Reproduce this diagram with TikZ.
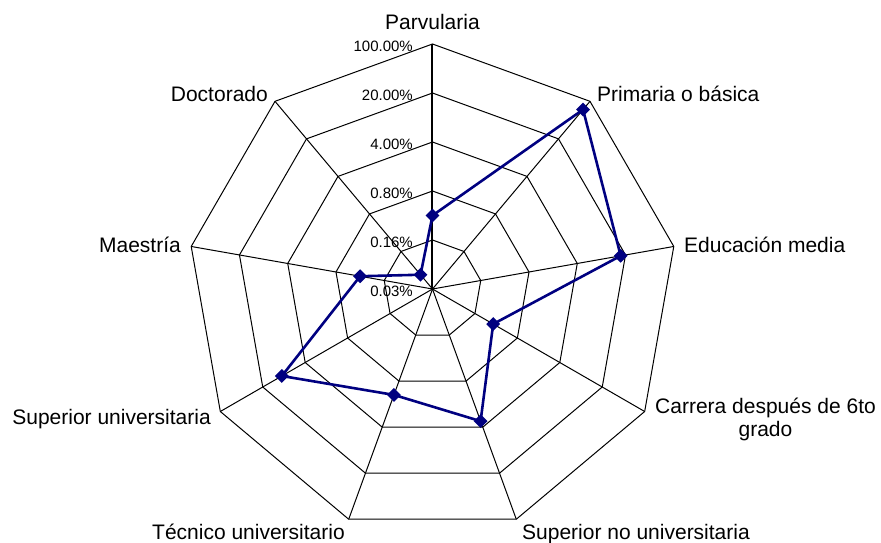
\documentclass[tikz,border=0pt]{standalone}
\usepackage{fontspec}
\setmainfont{Liberation Sans}
\usetikzlibrary{calc,shapes.geometric}
\definecolor{navy}{RGB}{0,0,128}

\begin{document}
\begin{tikzpicture}[x=1pt,y=1pt,
    grid/.style={line width=1pt},
    lbl/.style={inner sep=0pt,font=\fontsize{21}{23}\selectfont},
    pct/.style={inner sep=0pt,font=\fontsize{15}{17}\selectfont,anchor=base east},
    serie/.style={line width=2.6pt,navy,line join=round},
    punto/.style={diamond,fill=navy,inner sep=0pt,minimum size=14pt}]
    \useasboundingbox (-432.5,-253) rectangle (448.5,289);

    % corners of the outer ring
    \foreach \i in {0,...,8}
        \coordinate (v\i) at ({90-40*\i}:245);

    % rings
    \foreach \k in {1,...,5}
        \draw[grid] (90:{49*\k}) \foreach \i in {1,...,8}{ -- ({90-40*\i}:{49*\k}) } -- cycle;

    % spokes
    \foreach \i in {1,...,8}
        \draw[grid] (0,0) -- (v\i);
    \draw[line width=2pt] (0,0) -- (v0);
    \fill (0,0) circle (1.5);

    % scale
    \node[pct] (p0) at (-19.5,-7)  {0.03\%};
    \node[pct] (p1) at (-19.5,42)  {0.16\%};
    \node[pct] (p2) at (-19.5,91)  {0.80\%};
    \node[pct] (p3) at (-19.5,140) {4.00\%};
    \node[pct] (p4) at (-19.5,189) {20.00\%};
    \node[pct] (p5) at (-19.5,238) {100.00\%};

    % categories
    \node[lbl,anchor=base] (parv) at (0,260) {Parvularia};
    \node[lbl,anchor=base west] (prim) at (164.5,187.3) {Primaria o básica};
    \node[lbl,anchor=base west] (media) at (251.5,36.3) {Educación media};
    \node[lbl,anchor=north,align=center] (carr) at (333,-108.5) {Carrera después de 6to\\grado};
    \node[lbl,anchor=base west] (supnu) at (89.5,-250) {Superior no universitaria};
    \node[lbl,anchor=base east] (tec) at (-87.5,-250) {Técnico universitario};
    \node[lbl,anchor=base east] (supu) at (-221.5,-135) {Superior universitaria};
    \node[lbl,anchor=base east] (maes) at (-251.5,36.3) {Maestría};
    \node[lbl,anchor=base east] (doct) at (-164.5,187.3) {Doctorado};

    % series
    \foreach \i/\u in {0/1.50,1/4.78,2/3.90,3/1.43,4/2.87,5/2.30,6/3.55,7/1.50,8/0.38}
        \coordinate (d\i) at ({90-40*\i}:{49*\u});
    \draw[serie] (d0) -- (d1) -- (d2) -- (d3) -- (d4) -- (d5) -- (d6) -- (d7) -- (d8) -- cycle;
    \foreach \i in {0,...,8}
        \node[punto] (m\i) at (d\i) {};
\end{tikzpicture}
\end{document}
